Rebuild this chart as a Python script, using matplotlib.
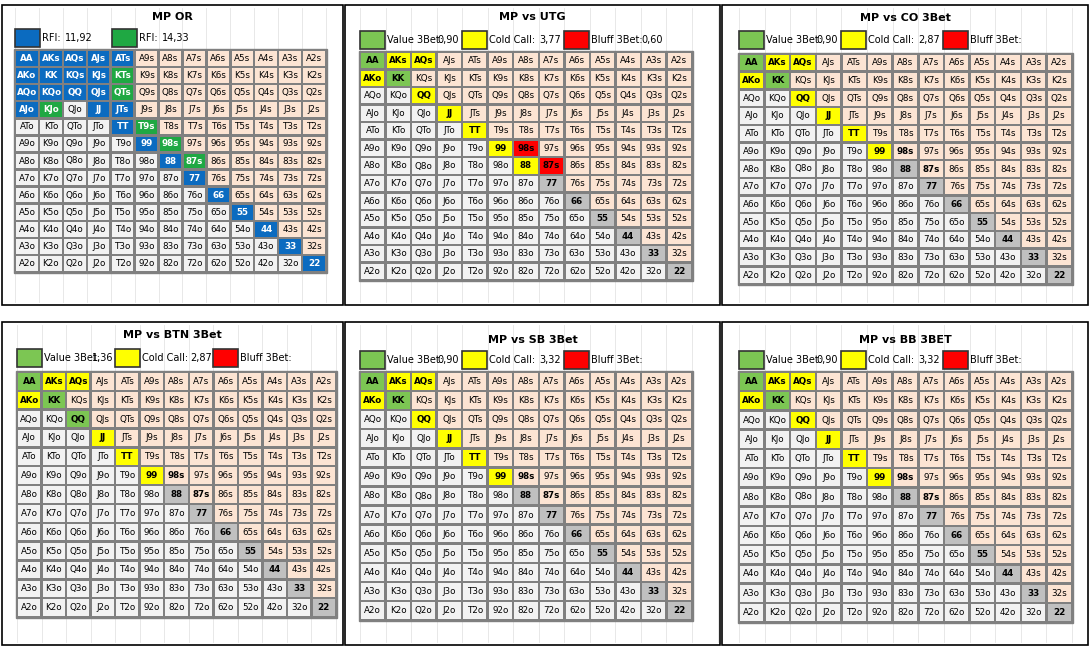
import matplotlib.pyplot as plt
from matplotlib.patches import Rectangle

ranks = ["A", "K", "Q", "J", "T", "9", "8", "7", "6", "5", "4", "3", "2"]

# chart categories
titles = ["MP OR", "MP vs UTG", "MP vs CO 3Bet", "MP vs BTN 3Bet", "MP vs SB 3Bet", "MP vs BB 3BET"]
legend_vals = [
    [("RFI:", "11,92"), ("RFI:", "14,33")],
    [("Value 3Bet:", "0,90"), ("Cold Call:", "3,77"), ("Bluff 3Bet:", "0,60")],
    [("Value 3Bet:", "0,90"), ("Cold Call:", "2,87"), ("Bluff 3Bet:", "")],
    [("Value 3Bet:", "1,36"), ("Cold Call:", "2,87"), ("Bluff 3Bet:", "")],
    [("Value 3Bet:", "0,90"), ("Cold Call:", "3,32"), ("Bluff 3Bet:", "")],
    [("Value 3Bet:", "0,90"), ("Cold Call:", "3,32"), ("Bluff 3Bet:", "")],
]

# hand groups per panel
or_blue = ["AA", "AKs", "AQs", "AJs", "ATs", "AKo", "KK", "KQs", "KJs", "AQo", "KQo", "QQ", "QJs",
           "AJo", "JJ", "JTs", "TT", "99", "88", "77", "66", "55", "44", "33", "22"]
or_green = ["KTs", "QTs", "KJo", "T9s", "98s", "87s"]
utg_value = ["AA", "KK"]
utg_call = ["AKs", "AQs", "AKo", "QQ", "JJ", "TT", "99", "88"]
utg_bluff = ["98s", "87s"]
utg_gray = ["77", "66", "55", "44", "33", "22"]
std_value = ["AA", "KK"]
std_call = ["AKs", "AQs", "AKo", "QQ", "JJ", "TT", "99"]
std_gray = ["88", "77", "66", "55", "44", "33", "22"]
btn_value = ["AA", "KK", "QQ"]
btn_call = ["AKs", "AQs", "AKo", "JJ", "TT", "99"]
btn_gray = ["88", "77", "66", "55", "44", "33", "22"]
bold_hands = ["98s", "87s"]

BLUE, ORGREEN = "#0b6bc0", "#1fa843"
VAL, CALL, BLUFF, GRAY = "#7cc653", "#ffff00", "#ff0000", "#c0c0c0"
SUITED, OFFS = "#fce4d3", "#f2f2f2"

panels = [
    dict(box=(2, 5, 343, 305), grid=(15, 50, 326, 272), title_y=17, leg_y=38, step=97, voff=50,
         groups=[(or_blue, BLUE, "white"), (or_green, ORGREEN, "white")],
         leg_cols=[BLUE, ORGREEN], bold=[]),
    dict(box=(345, 5, 720, 305), grid=(360, 52, 692, 280), title_y=17, leg_y=40, step=102, voff=77,
         groups=[(utg_value, VAL, "black"), (utg_call, CALL, "black"), (utg_bluff, BLUFF, "black"), (utg_gray, GRAY, "black")],
         leg_cols=[VAL, CALL, BLUFF], bold=[]),
    dict(box=(722, 5, 1088, 305), grid=(739, 54, 1072, 284), title_y=18, leg_y=40, step=102, voff=77,
         groups=[(std_value, VAL, "black"), (std_call, CALL, "black"), (std_gray, GRAY, "black")],
         leg_cols=[VAL, CALL, BLUFF], bold=bold_hands),
    dict(box=(2, 322, 343, 645), grid=(17, 372, 336, 617), title_y=335, leg_y=358, step=98, voff=75,
         groups=[(btn_value, VAL, "black"), (btn_call, CALL, "black"), (btn_gray, GRAY, "black")],
         leg_cols=[VAL, CALL, BLUFF], bold=bold_hands),
    dict(box=(345, 322, 720, 645), grid=(360, 372, 692, 620), title_y=340, leg_y=360, step=102, voff=77,
         groups=[(std_value, VAL, "black"), (std_call, CALL, "black"), (std_gray, GRAY, "black")],
         leg_cols=[VAL, CALL, BLUFF], bold=bold_hands),
    dict(box=(722, 322, 1088, 645), grid=(739, 372, 1072, 622), title_y=340, leg_y=360, step=102, voff=77,
         groups=[(std_value, VAL, "black"), (std_call, CALL, "black"), (std_gray, GRAY, "black")],
         leg_cols=[VAL, CALL, BLUFF], bold=bold_hands),
]


def hand(i, j):
    if i == j:
        return ranks[i] + ranks[j]
    if j > i:
        return ranks[i] + ranks[j] + "s"
    return ranks[j] + ranks[i] + "o"


fig = plt.figure(figsize=(10.92, 6.49), dpi=100)
ax = fig.add_axes([0, 0, 1, 1])
ax.set_xlim(0, 1092)
ax.set_ylim(649, 0)
ax.axis("off")

for p, title, legs in zip(panels, titles, legend_vals):
    x0, y0, x1, y1 = p["box"]
    ax.add_patch(Rectangle((x0, y0), x1 - x0, y1 - y0, fill=False, ec="black", lw=1.2))
    gx0, gy0, gx1, gy1 = p["grid"]
    cw = (gx1 - gx0) / 13
    ch = (gy1 - gy0) / 13
    # faint sheet gridlines
    for k in range(int((x1 - x0) / cw) + 2):
        xx = gx0 + (k - 1) * cw
        if x0 < xx < x1:
            ax.plot([xx, xx], [y0 + 3, y1 - 3], color="#e4e4e4", lw=0.6, zorder=0)
    ax.text((x0 + x1) / 2, p["title_y"], title, ha="center", va="center", fontsize=8, fontweight="bold")
    # legend
    ly = p["leg_y"]
    for k, ((lab, val), col) in enumerate(zip(legs, p["leg_cols"])):
        lx = gx0 + k * p["step"]
        ax.add_patch(Rectangle((lx, ly - 9), 25, 18, fc=col, ec="#333333", lw=1.2))
        ax.text(lx + 27, ly, lab, ha="left", va="center", fontsize=7)
        ax.text(lx + p["voff"], ly, val, ha="left", va="center", fontsize=7)
    colors = {}
    for hands, fc, tc in p["groups"]:
        for h in hands:
            colors[h] = (fc, tc)
    ax.add_patch(Rectangle((gx0 - 1, gy0 - 1), gx1 - gx0 + 2, gy1 - gy0 + 2, fc="#808080", ec="#808080"))
    for i in range(13):
        for j in range(13):
            h = hand(i, j)
            default = SUITED if j > i else OFFS
            fc, tc = colors.get(h, (default, "black"))
            cx, cy = gx0 + j * cw, gy0 + i * ch
            ax.add_patch(Rectangle((cx + 1.2, cy + 1.2), cw - 2.4, ch - 2.4, fc=fc, ec="none"))
            bold = h in colors or h in p["bold"]
            ax.text(cx + cw / 2, cy + ch / 2, h, ha="center", va="center", fontsize=6.3,
                    color=tc, fontweight="bold" if bold else "normal")

fig.savefig("out.png", dpi=100)
